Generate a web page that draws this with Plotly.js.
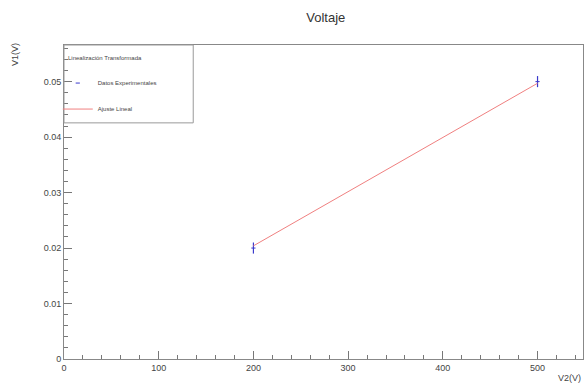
<!DOCTYPE html>
<html><head><meta charset="utf-8">
<script src="https://cdn.plot.ly/plotly-3.0.1.min.js"></script>
<style>html,body{margin:0;padding:0;background:#fff}</style>
</head><body>
<div id="chart" style="width:587px;height:387px"></div>
<script>
const dataX = [200, 500];
const dataY = [0.0200, 0.0500];
const dataErrY = [0.0010, 0.0010];
const fitX = [200, 500];
const fitY = [0.0204, 0.0497];
const chartTitle = "Voltaje";
const xTitle = "V2(V)";
const yTitle = "V1(V)";
const legendTitle = "Linealización Transformada";
const dataName = "Datos Experimentales";
const fitName = "Ajuste Lineal";

const FONT = 'Liberation Sans, Arial, sans-serif';
const traces = [
  {x: dataX, y: dataY, name: dataName, type: 'scatter', mode: 'markers', legendgroup: 'a',
   marker: {color: '#3a3acc', size: 3, symbol: 'line-ew-open', line:{width:1,color:'#3a3acc'}},
   error_y: {type: 'data', array: dataErrY, visible: true, color: '#3a3acc', thickness: 1.2, width: 0}},
  {x: fitX, y: fitY, name: fitName, type: 'scatter', mode: 'lines', legendgroup: 'b',
   line: {color: '#f08080', width: 1}}
];
const axisFont = {family: FONT, size: 9, color: '#444'};
const layout = {
  width: 587, height: 387,
  margin: {l: 64, r: 4, t: 45, b: 28},
  paper_bgcolor: '#fff', plot_bgcolor: '#fff',
  font: axisFont,
  title: {text: chartTitle, x: 0.555, xanchor: 'center', y: 0.955, yanchor: 'middle',
          font: {family: FONT, size: 13, color: '#333'}},
  xaxis: {range: [0, 548], showgrid: false, zeroline: false, showline: true, linecolor: '#888', linewidth: 1,
          mirror: true, ticks: 'inside', ticklen: 8, tickcolor: '#777', dtick: 100, tick0: 0,
          minor: {ticks: 'inside', ticklen: 4, dtick: 20, tick0: 0, tickcolor: '#777', tickwidth: 1},
          tickfont: axisFont, title: {text: ''}},
  yaxis: {range: [0, 0.0566], showgrid: false, zeroline: false, showline: true, linecolor: '#888', linewidth: 1,
          mirror: true, ticks: 'inside', ticklen: 8, tickcolor: '#777', dtick: 0.01, tick0: 0,
          tickformat: '~g',
          minor: {ticks: 'inside', ticklen: 4, dtick: 0.002, tick0: 0, tickcolor: '#777', tickwidth: 1},
          tickfont: axisFont, title: {text: ''}},
  showlegend: true,
  legend: {x: -0.012, y: 0.925, xanchor: 'left', yanchor: 'top', bgcolor: 'rgba(0,0,0,0)', borderwidth: 0,
           font: {family: FONT, size: 6, color: '#444'},
           traceorder: 'grouped', tracegroupgap: 7, itemwidth: 30},
  shapes: [{type: 'rect', xref: 'paper', yref: 'paper', x0: 0, x1: 0.249, y0: 0.752, y1: 1,
            line: {color: '#999', width: 1}, fillcolor: 'rgba(0,0,0,0)'}],
  annotations: [
    {text: legendTitle, xref: 'paper', yref: 'paper', x: 0.004, y: 0.958, showarrow: false,
     xanchor: 'left', yanchor: 'middle', font: {family: FONT, size: 6, color: '#444'}},
    {text: yTitle, xref: 'paper', yref: 'paper', x: 0, xshift: -49, y: 0.968, textangle: -90, showarrow: false,
     xanchor: 'center', yanchor: 'middle', font: {family: FONT, size: 9, color: '#444'}},
    {text: xTitle, xref: 'paper', yref: 'paper', x: 1.0, y: -0.06, showarrow: false,
     xanchor: 'right', yanchor: 'middle', font: {family: FONT, size: 9, color: '#444'}}
  ]
};
Plotly.newPlot('chart', traces, layout, {displayModeBar: false, staticPlot: true});
</script>
</body></html>
